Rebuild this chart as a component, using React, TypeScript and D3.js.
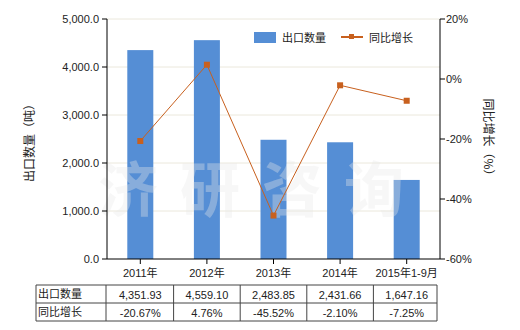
import React from "react";
import * as d3 from "d3";

const categories = ["2011年", "2012年", "2013年", "2014年", "2015年1-9月"];
const exportQty = [4351.93, 4559.1, 2483.85, 2431.66, 1647.16];
const growth = [-20.67, 4.76, -45.52, -2.1, -7.25];
const qtyLabels = ["4,351.93", "4,559.10", "2,483.85", "2,431.66", "1,647.16"];
const growthLabels = ["-20.67%", "4.76%", "-45.52%", "-2.10%", "-7.25%"];
const leftTicks = [0, 1000, 2000, 3000, 4000, 5000];
const rightTicks = [-60, -40, -20, 0, 20];

const W = 520, H = 330;
const L = 107, R = 440, T = 19, B = 259;
const font = "'Liberation Sans', 'Noto Sans CJK SC', sans-serif";
const BAR = "#558ED5";
const LINE = "#C8601E";

export default function App() {
  const x = d3.scaleBand<string>().domain(categories).range([L, R]).padding(0);
  const yL = d3.scaleLinear().domain([0, 5000]).range([B, T]);
  const yR = d3.scaleLinear().domain([-60, 20]).range([B, T]);
  const bw = 26;
  const cx = (c: string) => (x(c) as number) + x.bandwidth() / 2;
  const line = d3.line<number>().x((_, i) => cx(categories[i])).y((d) => yR(d));
  const fmt = d3.format(",.1f");
  const tableL = 36, col0 = 106, rows = [285, 303, 321];

  return (
    <svg width={W} height={H} style={{ position: "absolute", left: 0, top: 0 }} fontFamily={font}>
      <rect x={0} y={0} width={W} height={H} fill="#fff" />
      {leftTicks.slice(1).map((t) => (
        <line key={t} x1={L} x2={R} y1={yL(t)} y2={yL(t)} stroke="#ebe8dc" strokeWidth={1} />
      ))}
      {categories.map((c, i) => (
        <rect key={c} x={cx(c) - bw / 2} y={yL(exportQty[i])} width={bw} height={B - yL(exportQty[i])} fill={BAR} />
      ))}
      <text x={262} y={212} textAnchor="middle" fontSize={60} fontWeight="bold" fill="#e8e8e8" fillOpacity={0.35}
        fontFamily="'Noto Sans CJK SC', sans-serif" letterSpacing={22}>济研咨询</text>
      <path d={line(growth) || ""} fill="none" stroke={LINE} strokeWidth={1} />
      {growth.map((g, i) => (
        <rect key={i} x={cx(categories[i]) - 3} y={yR(g) - 3} width={6} height={6} fill={LINE} />
      ))}
      <line x1={L} x2={L} y1={T} y2={B} stroke="#000" />
      {leftTicks.map((t) => (
        <g key={t}>
          <line x1={L - 5} x2={L} y1={yL(t)} y2={yL(t)} stroke="#000" />
          <text x={L - 8} y={yL(t) + 4} textAnchor="end" fontSize={11} fill="#222">{fmt(t)}</text>
        </g>
      ))}
      <line x1={R} x2={R} y1={T} y2={B} stroke="#000" />
      {rightTicks.map((t) => (
        <g key={t}>
          <line x1={R} x2={R + 5} y1={yR(t)} y2={yR(t)} stroke="#000" />
          <text x={R + 6} y={yR(t) + 4} textAnchor="start" fontSize={11} fill="#222">{t + "%"}</text>
        </g>
      ))}
      <line x1={L} x2={R} y1={B} y2={B} stroke="#000" />
      {categories.map((c) => (
        <g key={c}>
          <line x1={cx(c)} x2={cx(c)} y1={B} y2={B + 5} stroke="#000" />
          <text x={cx(c)} y={277} textAnchor="middle" fontSize={11} fill="#222">{c}</text>
        </g>
      ))}
      <text transform={`translate(34,140) rotate(-90)`} textAnchor="middle" fontSize={12} fill="#222"
        fontFamily="'Noto Sans CJK SC', sans-serif">出口数量（吨）</text>
      <text transform={`translate(484,140) rotate(90)`} textAnchor="middle" fontSize={12} fill="#222"
        fontFamily="'Noto Sans CJK SC', sans-serif">同比增长（%）</text>
      <rect x={254} y={32} width={22} height={11} fill={BAR} />
      <text x={282} y={42} fontSize={11} fill="#222" fontFamily="'Noto Sans CJK SC', sans-serif">出口数量</text>
      <line x1={341} x2={363} y1={37} y2={37} stroke={LINE} strokeWidth={2} />
      <rect x={349} y={34} width={5} height={5} fill={LINE} />
      <text x={369} y={42} fontSize={11} fill="#222" fontFamily="'Noto Sans CJK SC', sans-serif">同比增长</text>
      <line x1={tableL} x2={R - 3} y1={rows[0]} y2={rows[0]} stroke="#444" />
      <line x1={tableL} x2={R - 3} y1={rows[1]} y2={rows[1]} stroke="#444" />
      <line x1={tableL} x2={R - 3} y1={rows[2]} y2={rows[2]} stroke="#444" />
      <line x1={tableL} x2={tableL} y1={rows[0]} y2={rows[2]} stroke="#444" />
      <line x1={col0} x2={col0} y1={rows[0]} y2={rows[2]} stroke="#444" />
      {categories.map((c) => (
        <line key={c} x1={(x(c) as number) + x.bandwidth() - (c === categories[4] ? 3 : 0)}
          x2={(x(c) as number) + x.bandwidth() - (c === categories[4] ? 3 : 0)} y1={rows[0]} y2={rows[2]} stroke="#444" />
      ))}
      <text x={38} y={298} fontSize={11} fill="#222" fontFamily="'Noto Sans CJK SC', sans-serif">出口数量</text>
      <text x={38} y={316} fontSize={11} fill="#222" fontFamily="'Noto Sans CJK SC', sans-serif">同比增长</text>
      {categories.map((c, i) => (
        <g key={c}>
          <text x={cx(c)} y={299} textAnchor="middle" fontSize={11} fill="#222">{qtyLabels[i]}</text>
          <text x={cx(c)} y={317} textAnchor="middle" fontSize={11} fill="#222">{growthLabels[i]}</text>
        </g>
      ))}
    </svg>
  );
}
